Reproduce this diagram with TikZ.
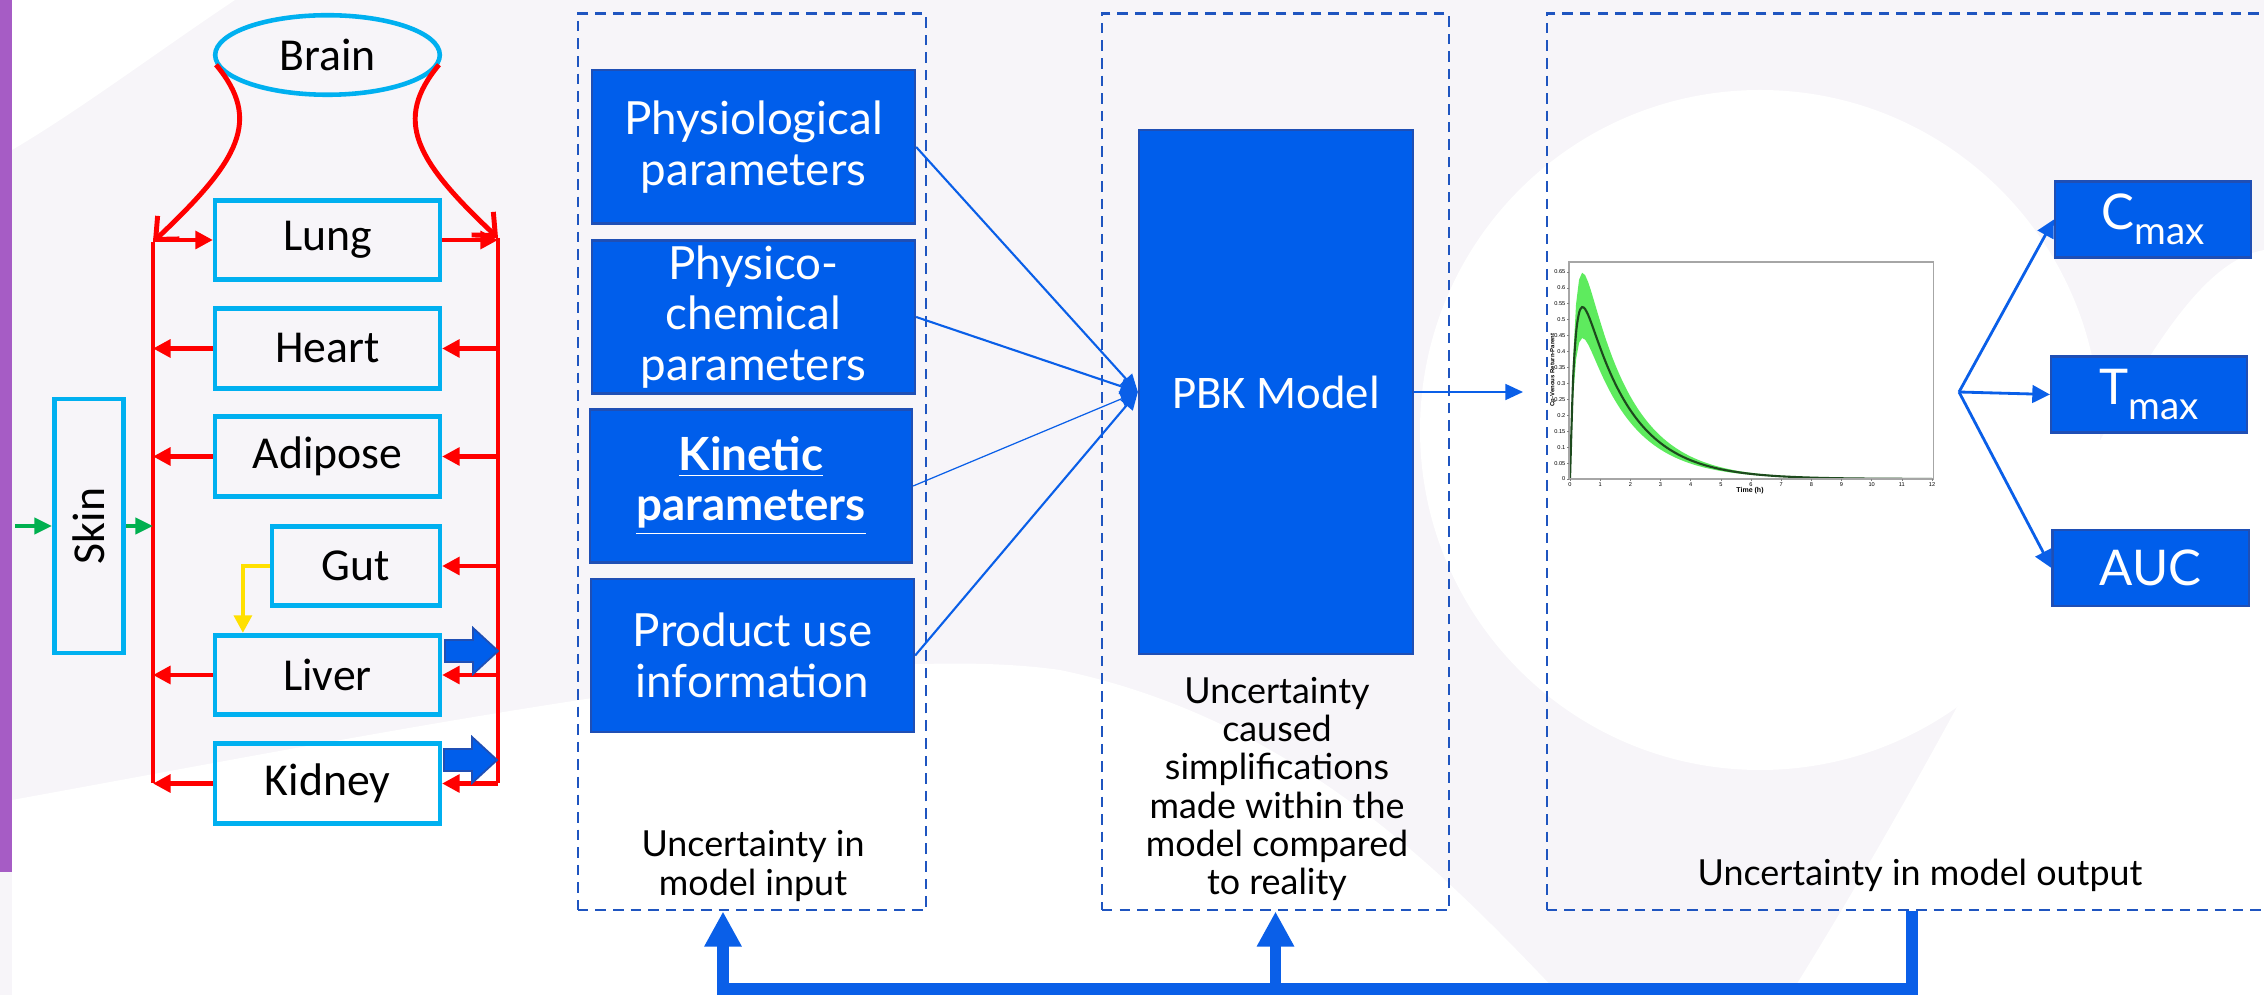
\documentclass[tikz,border=0pt]{standalone}
\usepackage{fontspec}
\setmainfont{Lato}
\newfontfamily\organfont{Carlito}
\newfontfamily\plotfont{Liberation Sans}
\usetikzlibrary{arrows.meta,calc,shapes.geometric}

\definecolor{organcyan}{HTML}{00B0F0}
\definecolor{flowred}{HTML}{FF0000}
\definecolor{skingreen}{HTML}{00B050}
\definecolor{gutyellow}{HTML}{FFE000}
\definecolor{pbkblue}{HTML}{005EEB}
\definecolor{pbkedge}{HTML}{1F4FB5}
\definecolor{dashblue}{HTML}{1F55C0}
\definecolor{arrowblue}{HTML}{0A5FE8}
\definecolor{bggray}{HTML}{F7F5F9}
\definecolor{sidepurple}{HTML}{A65CC5}
\definecolor{bandgreen}{HTML}{5EEB5E}
\definecolor{curvegreen}{HTML}{1D4A1D}

\newcommand\pksub[1]{\raisebox{-0.3em}{\fontsize{11}{11}\selectfont #1}}

\tikzset{
  organ/.style={draw=organcyan, line width=1.3pt, minimum height=0.795cm, inner sep=0pt,
    font=\organfont\fontsize{13}{15}\selectfont},
  bus/.style={draw=flowred, line width=1.4pt},
  bloodflow/.style={draw=flowred, line width=1.4pt, -{Triangle[length=5pt,width=5pt]}},
  brainflow/.style={draw=flowred, line width=1.4pt, -{Straight Barb[length=5pt,width=9pt]}},
  skinflow/.style={draw=skingreen, line width=1.2pt, -{Triangle[length=5pt,width=4.5pt]}},
  portal/.style={draw=gutyellow, line width=1.2pt, -{Triangle[length=5pt,width=5pt]}},
  excrete/.pic={\filldraw[fill=pbkblue, draw=pbkedge, line width=0.5pt]
    (0,-11) -- (28,-11) -- (28,-23) -- (53,0) -- (28,23) -- (28,11) -- (0,11) -- cycle;},
  param/.style={fill=pbkblue, draw=pbkedge, line width=0.6pt, text=white, align=center,
    minimum width=3.23cm, minimum height=1.53cm, inner sep=0pt, font=\fontsize{13}{14.4}\selectfont},
  pkbox/.style={fill=pbkblue, draw=pbkedge, line width=0.6pt, text=white,
    minimum width=1.96cm, minimum height=0.76cm, inner sep=0pt, font=\fontsize{14}{16}\selectfont},
  dashbox/.style={draw=dashblue, line width=0.7pt, dash pattern=on 3pt off 2pt, minimum height=8.96cm},
  caption/.style={align=center, font=\fontsize{10.2}{10.9}\selectfont},
  link/.style={draw=arrowblue, line width=0.6pt, -{Triangle[length=5pt,width=4.5pt]}},
  fanout/.style={draw=arrowblue, line width=0.8pt, -{Triangle[length=5pt,width=5pt]}},
  feedback/.style={draw=arrowblue, line width=3.4pt, -{Triangle[length=10pt,width=10pt]}},
  ticklbl/.style={font=\plotfont\fontsize{1.6}{2}\selectfont, inner sep=0.3pt},
  declare function={conc(\t)=0.793*(exp(-0.65*\t)-exp(-6*\t));}
}

\begin{document}
\begin{tikzpicture}[x=0.01cm,y=-0.01cm]
  \useasboundingbox (0,0) rectangle (2264,995);
  \clip (0,0) rectangle (2264,995);

  % background
  \fill[bggray] (0,0) rectangle (2264,995);
  \fill[white] (12,0) -- (235,0) .. controls (160,50) and (80,110) .. (12,150) -- cycle;
  \fill[white] (1760,430) circle[radius=340];
  \fill[white] (2264,250) .. controls (2150,270) and (2060,560) .. (1790,995) -- (2264,995) -- cycle;
  \fill[white] (12,800) .. controls (450,720) and (850,640) .. (1060,670)
    .. controls (1300,720) and (1450,880) .. (1560,995) -- (12,995) -- cycle;
  \fill[sidepurple] (0,0) rectangle (12,872);

  % organs
  \node[organ, ellipse, minimum width=2.245cm] (brain) at (327.5,55) {Brain};
  \node[organ, minimum width=2.245cm] (lung) at (327.5,240) {Lung};
  \node[organ, minimum width=2.245cm] (heart) at (327.5,348.5) {Heart};
  \node[organ, minimum width=2.245cm] (adipose) at (327.5,456.5) {Adipose};
  \node[organ, minimum width=1.675cm] (gut) at (356,566) {Gut};
  \node[organ, minimum width=2.245cm] (liver) at (327.5,675) {Liver};
  \node[organ, minimum width=2.245cm] (kidney) at (327.5,783.5) {Kidney};
  \node[organ, minimum width=0.695cm, minimum height=2.535cm] (skin) at (89,526) {};
  \node[rotate=90, font=\organfont\fontsize{13}{15}\selectfont] (skinname) at (skin) {Skin};

  % blood
  \coordinate (lbtop) at (153,242);
  \coordinate (lbbot) at (153,783.5);
  \coordinate (rbtop) at (498,238);
  \coordinate (rbbot) at (498,783.5);
  \draw[bus] (lbtop) -- (lbbot);
  \draw[bus] (rbtop) -- (rbbot);
  \draw[brainflow] (brain.185) .. controls (262,120) and (240,160) .. (lbtop);
  \draw[brainflow] (brain.-5) .. controls (393,120) and (415,160) .. (rbtop);
  \draw[bloodflow] (lbtop |- lung.west) -- (lung.west);
  \draw[bloodflow] (lung.east) -- (rbtop |- lung.east);
  \foreach \o in {heart,adipose,liver,kidney} {
    \draw[bloodflow] (\o.west) -- (lbtop |- \o.west);
    \draw[bloodflow] (rbtop |- \o.east) -- (\o.east);
  }
  \draw[bloodflow] (rbtop |- gut.east) -- (gut.east);

  \coordinate (dermal) at (15,526);
  \draw[skinflow] (dermal) -- (skin.west);
  \draw[skinflow] (skin.east) -- (lbtop |- skin.east);
  \draw[portal] (gut.west) -| ($(liver.north west)+(30,0)$);
  \pic at ($(liver.east)+(3,-24)$) {excrete};
  \pic at ($(kidney.east)+(2,-23.5)$) {excrete};

  % uncertainty frames
  \node[dashbox, minimum width=3.48cm] (inputbox) at (752,462) {};
  \node[dashbox, minimum width=3.47cm] (modelbox) at (1275.5,462) {};
  \node[dashbox, minimum width=7.6cm] (outputbox) at (1927,462) {};

  % model inputs
  \node[param] (physio) at (753.5,147) {Physiological\\parameters};
  \node[param] (physchem) at (753.5,317) {Physico-\\chemical\\parameters};
  \node[param, minimum width=3.22cm] (kinetic) at (751,486)
    {\textbf{\underline{Kinetic}}\\\textbf{\underline{parameters}}};
  \node[param] (product) at (752.5,655.5) {Product use\\information};
  \node[param, minimum width=2.74cm, minimum height=5.24cm,
    font=\organfont\fontsize{13.3}{15}\selectfont] (pbk) at (1276,392) {PBK Model};

  \draw[link] (physio.east) -- (pbk.west);
  \draw[link] (physchem.east) -- (pbk.west);
  \draw[link, line width=0.35pt] (kinetic.east) -- (pbk.west);
  \draw[link] (product.east) -- (pbk.west);

  \node[caption] (inputcap) at (753,866) {Uncertainty in\\model input};
  \node[caption] (modelcap) at (1277,789)
    {Uncertainty\\caused\\simplifications\\made within the\\model compared\\to reality};
  \node[caption] (outputcap) at (1920,875) {Uncertainty in model output};

  % simulated plasma curve
  \coordinate (plotin) at (1523,392);
  \draw[link] (pbk.east) -- (plotin);
  \fill[white] (1550,257) rectangle (1945,497);
  \fill[bandgreen] plot[domain=0:12, samples=121] ({1570+30.17*\x},{479-318.5*1.2*conc(\x)})
    -- plot[domain=12:0, samples=121] ({1570+30.17*\x},{479-318.5*0.82*conc(\x)}) -- cycle;
  \draw[curvegreen, line width=0.6pt] plot[domain=0:12, samples=121, smooth]
    ({1570+30.17*\x},{479-318.5*conc(\x)});
  \draw[gray!70, line width=0.3pt] (1569,262) rectangle (1933,479);
  \foreach \t in {0,...,12} {
    \draw[gray, line width=0.2pt] (1570+30.17*\t,479) -- ++(0,2);
    \node[ticklbl, anchor=north] (xtick\t) at (1570+30.17*\t,481) {\t};
  }
  \foreach \v [count=\i] in {0,0.05,0.1,0.15,0.2,0.25,0.3,0.35,0.4,0.45,0.5,0.55,0.6,0.65} {
    \draw[gray, line width=0.2pt] (1569,479-318.5*\v) -- ++(-2,0);
    \node[ticklbl, anchor=east] (ytick\i) at (1567,479-318.5*\v) {\v};
  }
  \node[font=\plotfont\bfseries\fontsize{2}{2.4}\selectfont] (timelbl) at (1750,491) {Time (h)};
  \node[rotate=90, font=\plotfont\bfseries\fontsize{1.7}{2}\selectfont] (conclbl) at (1553,370)
    {Cp-Venous Return-Parent};

  % PK metrics
  \node[pkbox] (cmax) at (2153,219.5) {C\pksub{max}};
  \node[pkbox] (tmax) at (2149,394.5) {T\pksub{max}};
  \node[pkbox] (auc) at (2150.5,568) {AUC};
  \coordinate (fan) at (1959,392);
  \draw[fanout] (fan) -- (cmax.west);
  \draw[fanout] (fan) -- (tmax.west);
  \draw[fanout] (fan) -- (auc.west);

  % feedback
  \coordinate (fbl) at (723,989);
  \coordinate (fbr) at (1912,989);
  \draw[feedback] (outputbox.south -| fbr) -- (fbr) -- (fbl) -- (fbl |- inputbox.south);
  \draw[feedback] (modelbox.south |- fbr) -- (modelbox.south);
\end{tikzpicture}
\end{document}
